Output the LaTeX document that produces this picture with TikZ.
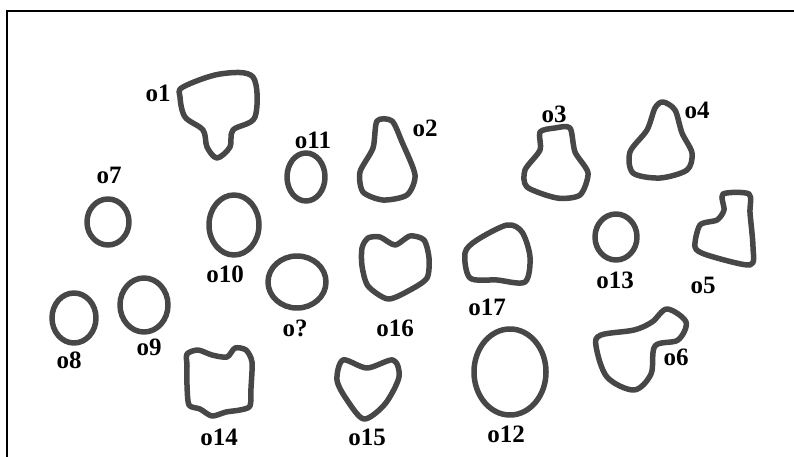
\documentclass[tikz,border=0pt]{standalone}
\usepackage{fontspec}
\setmainfont{Liberation Serif}
\usepackage{tikz}

\begin{document}
\begin{tikzpicture}[x=1pt,y=-1pt,
  blob/.style={draw=black!72,line width=5.5pt,line join=round},
  lbl/.style={inner sep=0pt,font=\fontsize{25}{25}\selectfont\bfseries}]
  \useasboundingbox (0,0) rectangle (794,457);
  \draw[line width=2pt] (794,11) -- (7,11) -- (7,457);
  % round ones
  \draw[blob] (108,222) ellipse (21 and 23);
  \draw[blob] (306,177) ellipse (19 and 24);
  \draw[blob] (234,225) ellipse (25 and 30);
  \draw[blob] (297,282) ellipse (29 and 26);
  \draw[blob] (74,318) ellipse (22 and 25);
  \draw[blob] (144,305) ellipse (24 and 27);
  \draw[blob] (510,372) ellipse (36 and 43);
  \draw[blob] (616,237) ellipse (21 and 23);
  % odd ones
  \draw[blob] plot[smooth cycle,tension=0.55] coordinates {(183,87) (220,74) (253,77) (255,117) (233,130) (230,147) (217,158) (207,147) (203,130) (185,117) (180,97)};
  \draw[blob] plot[smooth cycle,tension=0.45] coordinates {(377,121) (392,121) (402,142) (415,175) (407,195) (383,200) (363,192) (360,172) (373,148)};
  \draw[blob] plot[smooth cycle,tension=0.45] coordinates {(540,132) (555,128) (570,128) (575,152) (588,173) (580,195) (557,198) (527,187) (525,170) (540,150)};
  \draw[blob] plot[smooth cycle,tension=0.5] coordinates {(663,102) (675,110) (682,133) (692,153) (687,170) (660,178) (633,173) (630,152) (647,130) (655,108)};
  \draw[blob] plot[smooth cycle,tension=0.45] coordinates {(723,194) (749,194) (750,213) (753,247) (750,265) (707,255) (695,247) (700,225) (717,220) (724,210)};
  \draw[blob] plot[smooth cycle,tension=0.55] coordinates {(667,309) (686,322) (678,340) (655,346) (651,374) (634,390) (607,377) (596,346) (601,335) (634,330) (652,322)};
  \draw[blob] plot[smooth cycle,tension=0.45] coordinates {(187,354) (198,350) (212,355) (227,357) (235,348) (246,350) (252,362) (251,388) (250,406) (240,410) (226,412) (212,416) (200,409) (189,405) (187,385) (187,366)};
  \draw[blob] plot[smooth cycle,tension=0.5] coordinates {(343,360) (367,368) (393,360) (399,377) (385,404) (364,419) (347,400) (337,380)};
  \draw[blob] plot[smooth cycle,tension=0.45] coordinates {(368,238) (380,237) (395,245) (410,236) (424,240) (429,258) (427,278) (410,290) (388,299) (368,286) (362,266) (362,248)};
  \draw[blob] plot[smooth cycle,tension=0.5] coordinates {(507,225) (522,232) (530,257) (525,282) (497,280) (470,278) (465,253) (477,240)};
  % labels
  \node[lbl] (l1) at (158,93) {o1};
  \node[lbl] (l2) at (425,128) {o2};
  \node[lbl] (l3) at (554,114) {o3};
  \node[lbl] (l4) at (697,110) {o4};
  \node[lbl] (l5) at (703,285) {o5};
  \node[lbl] (l6) at (676,357) {o6};
  \node[lbl] (l7) at (109,175) {o7};
  \node[lbl] (l8) at (69,360) {o8};
  \node[lbl] (l9) at (149,347) {o9};
  \node[lbl] (l10) at (225,274) {o10};
  \node[lbl] (l11) at (313,140) {o11};
  \node[lbl] (l12) at (506,434) {o12};
  \node[lbl] (l13) at (615,280) {o13};
  \node[lbl] (l14) at (219,437) {o14};
  \node[lbl] (l15) at (367,437) {o15};
  \node[lbl] (l16) at (395,328) {o16};
  \node[lbl] (l17) at (487,307) {o17};
  \node[lbl] (lq) at (295,328) {o?};
\end{tikzpicture}
\end{document}
